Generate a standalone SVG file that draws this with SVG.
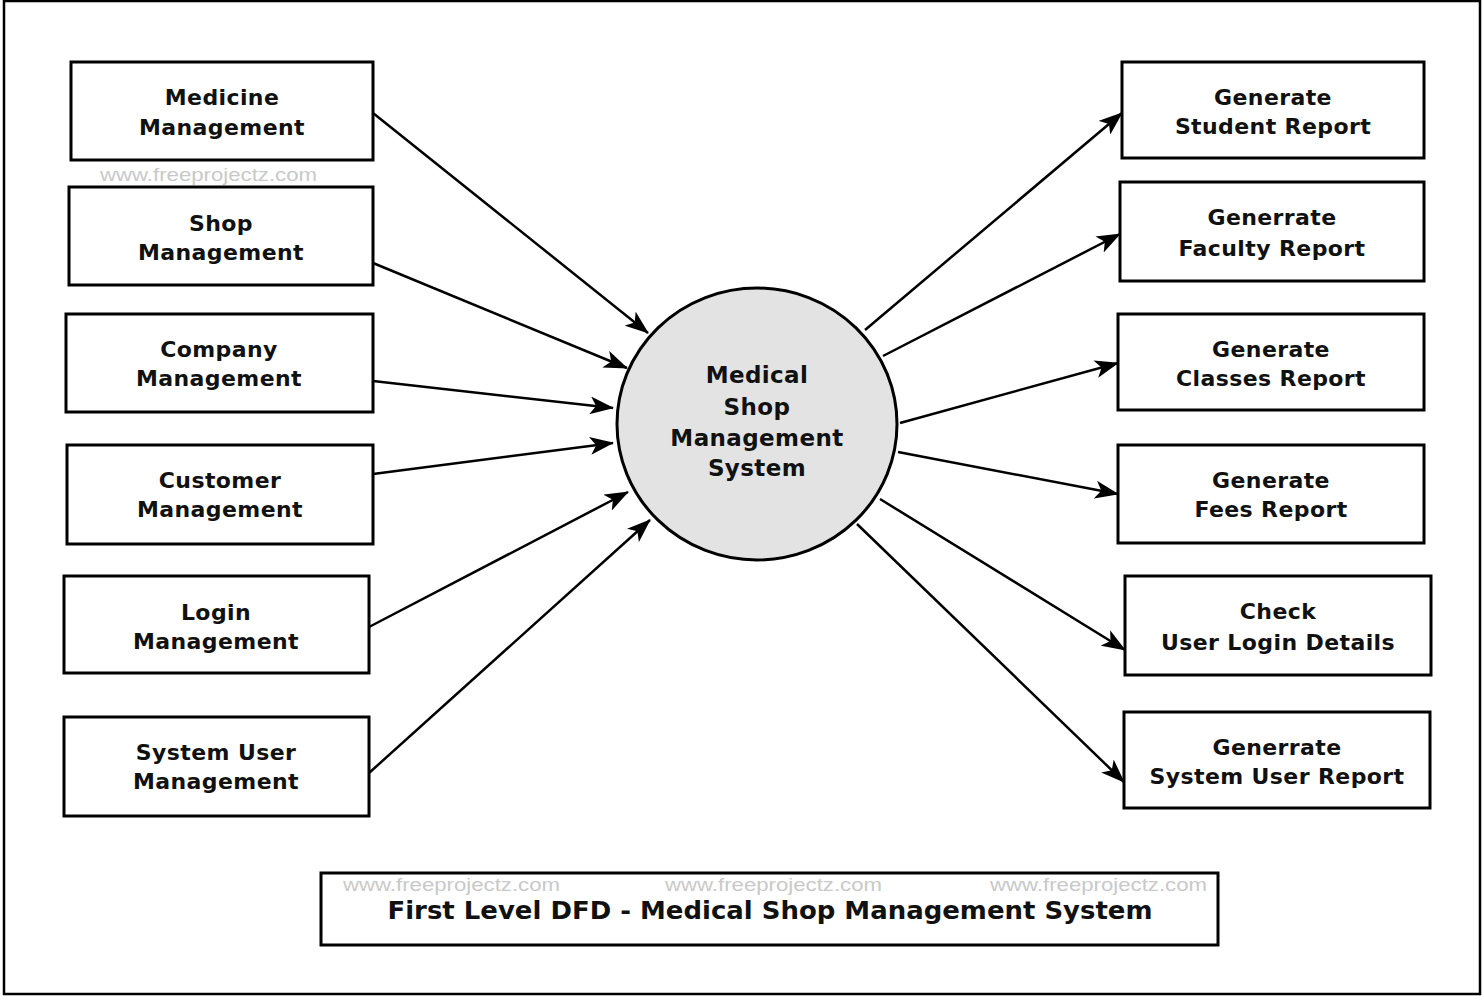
<svg xmlns="http://www.w3.org/2000/svg" width="1482" height="996" viewBox="0 0 1482 996">
<style>
.box{fill:#fff;stroke:#000;stroke-width:3}
.t{font-family:"DejaVu Sans","Liberation Sans",sans-serif;font-weight:bold;font-size:22px;text-anchor:middle;fill:#111;letter-spacing:0.4px}
.ct{font-family:"DejaVu Sans","Liberation Sans",sans-serif;font-weight:bold;font-size:23px;text-anchor:middle;fill:#111;letter-spacing:0.4px}
.wm{font-family:"Liberation Sans",Arial,sans-serif;font-size:19px;fill:#c9c9c9}
.c line{stroke:#000;stroke-width:2.5;marker-end:url(#ah)}
</style>
<defs>
<marker id="ah" markerUnits="userSpaceOnUse" viewBox="0 0 24 18" refX="23" refY="9" markerWidth="24" markerHeight="18" orient="auto">
<path d="M0,0 L24,9 L0,18 L6,9 Z" fill="#000"/>
</marker>
</defs>
<rect x="0" y="0" width="1482" height="996" fill="#fff"/>
<rect x="4" y="1" width="1476" height="993" fill="none" stroke="#000" stroke-width="2.5"/>
<text class="wm" x="100" y="181" textLength="217" lengthAdjust="spacingAndGlyphs">www.freeprojectz.com</text>

<g class="c" id="connectors">
<line x1="373" y1="113" x2="648" y2="333"/>
<line x1="373" y1="263" x2="627" y2="368"/>
<line x1="373" y1="381" x2="613" y2="408"/>
<line x1="373" y1="474" x2="613" y2="443"/>
<line x1="369" y1="627" x2="628" y2="492"/>
<line x1="369" y1="773" x2="650" y2="520"/>
<line x1="865" y1="330" x2="1122" y2="113"/>
<line x1="883" y1="356" x2="1120" y2="234"/>
<line x1="900" y1="423" x2="1118" y2="363"/>
<line x1="898" y1="452" x2="1118" y2="494"/>
<line x1="880" y1="499" x2="1125" y2="650"/>
<line x1="857" y1="524" x2="1124" y2="782"/>
</g>

<g id="center">
<ellipse cx="757" cy="424" rx="140" ry="136" fill="#e3e3e3" stroke="#000" stroke-width="3"/>
<text class="ct" x="757" y="383">Medical</text>
<text class="ct" x="757" y="415">Shop</text>
<text class="ct" x="757" y="446">Management</text>
<text class="ct" x="757" y="476">System</text>
</g>

<g id="medicine"><rect class="box" x="71" y="62" width="302" height="98"/><text class="t" x="222" y="105">Medicine</text><text class="t" x="222" y="135">Management</text></g>
<g id="shop"><rect class="box" x="69" y="187" width="304" height="98"/><text class="t" x="221" y="231">Shop</text><text class="t" x="221" y="260">Management</text></g>
<g id="company"><rect class="box" x="66" y="314" width="307" height="98"/><text class="t" x="219" y="357">Company</text><text class="t" x="219" y="386">Management</text></g>
<g id="customer"><rect class="box" x="67" y="445" width="306" height="99"/><text class="t" x="220" y="488">Customer</text><text class="t" x="220" y="517">Management</text></g>
<g id="login"><rect class="box" x="64" y="576" width="305" height="97"/><text class="t" x="216" y="620">Login</text><text class="t" x="216" y="649">Management</text></g>
<g id="sysuser"><rect class="box" x="64" y="717" width="305" height="99"/><text class="t" x="216" y="760">System User</text><text class="t" x="216" y="789">Management</text></g>

<g id="student"><rect class="box" x="1122" y="62" width="302" height="96"/><text class="t" x="1273" y="105">Generate</text><text class="t" x="1273" y="134">Student Report</text></g>
<g id="faculty"><rect class="box" x="1120" y="182" width="304" height="99"/><text class="t" x="1272" y="225">Generrate</text><text class="t" x="1272" y="256">Faculty Report</text></g>
<g id="classes"><rect class="box" x="1118" y="314" width="306" height="96"/><text class="t" x="1271" y="357">Generate</text><text class="t" x="1271" y="386">Classes Report</text></g>
<g id="fees"><rect class="box" x="1118" y="445" width="306" height="98"/><text class="t" x="1271" y="488">Generate</text><text class="t" x="1271" y="517">Fees Report</text></g>
<g id="checklogin"><rect class="box" x="1125" y="576" width="306" height="99"/><text class="t" x="1278" y="619">Check</text><text class="t" x="1278" y="650">User Login Details</text></g>
<g id="sysreport"><rect class="box" x="1124" y="712" width="306" height="96"/><text class="t" x="1277" y="755">Generrate</text><text class="t" x="1277" y="784">System User Report</text></g>

<g id="title">
<rect x="321" y="873" width="897" height="72" fill="#fff" stroke="#000" stroke-width="3"/>
<text class="wm" x="343" y="891" textLength="217" lengthAdjust="spacingAndGlyphs">www.freeprojectz.com</text>
<text class="wm" x="665" y="891" textLength="217" lengthAdjust="spacingAndGlyphs">www.freeprojectz.com</text>
<text class="wm" x="990" y="891" textLength="217" lengthAdjust="spacingAndGlyphs">www.freeprojectz.com</text>
<text x="770" y="919" text-anchor="middle" font-family="DejaVu Sans,Liberation Sans,sans-serif" font-weight="bold" font-size="24" fill="#111" textLength="765" lengthAdjust="spacingAndGlyphs">First Level DFD - Medical Shop Management System</text>
</g>
</svg>
